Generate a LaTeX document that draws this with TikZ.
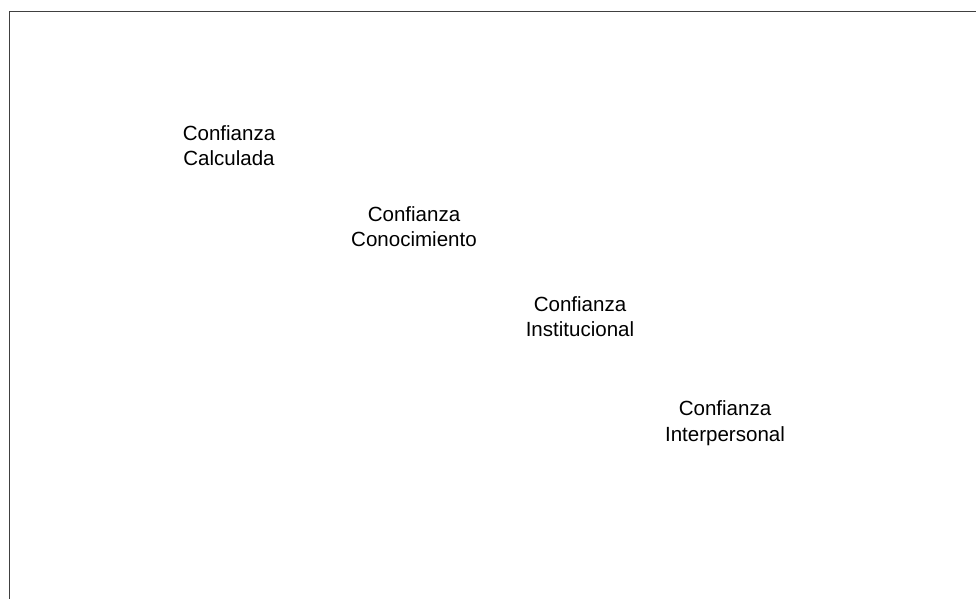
\documentclass[tikz,border=0pt]{standalone}
\usepackage{fontspec}
\setmainfont{Liberation Sans}
\tikzset{confianza/.style={font=\fontsize{15.4pt}{18.8pt}\selectfont, align=center, inner sep=0pt, anchor=base}}

\begin{document}
\begin{tikzpicture}[x=0.75pt, y=-0.75pt]
			%%%%% START %%%%%
			\useasboundingbox (0, 0) rectangle (976, 599);
			\draw[line width=1pt, black!75] (9.5, 599) |- (976, 11.5);
			
			% anchor base sits on the second line
			\node[confianza] (calculada) at (229, 165.5) {Confianza\\Calculada};
			\node[confianza] (conocimiento) at (414, 246.5) {Confianza\\Conocimiento};
			\node[confianza] (institucional) at (580, 336.5) {Confianza\\Institucional};
			\node[confianza] (interpersonal) at (725, 441) {Confianza\\Interpersonal};
			%%%%% END %%%%%
		\end{tikzpicture}
\end{document}
